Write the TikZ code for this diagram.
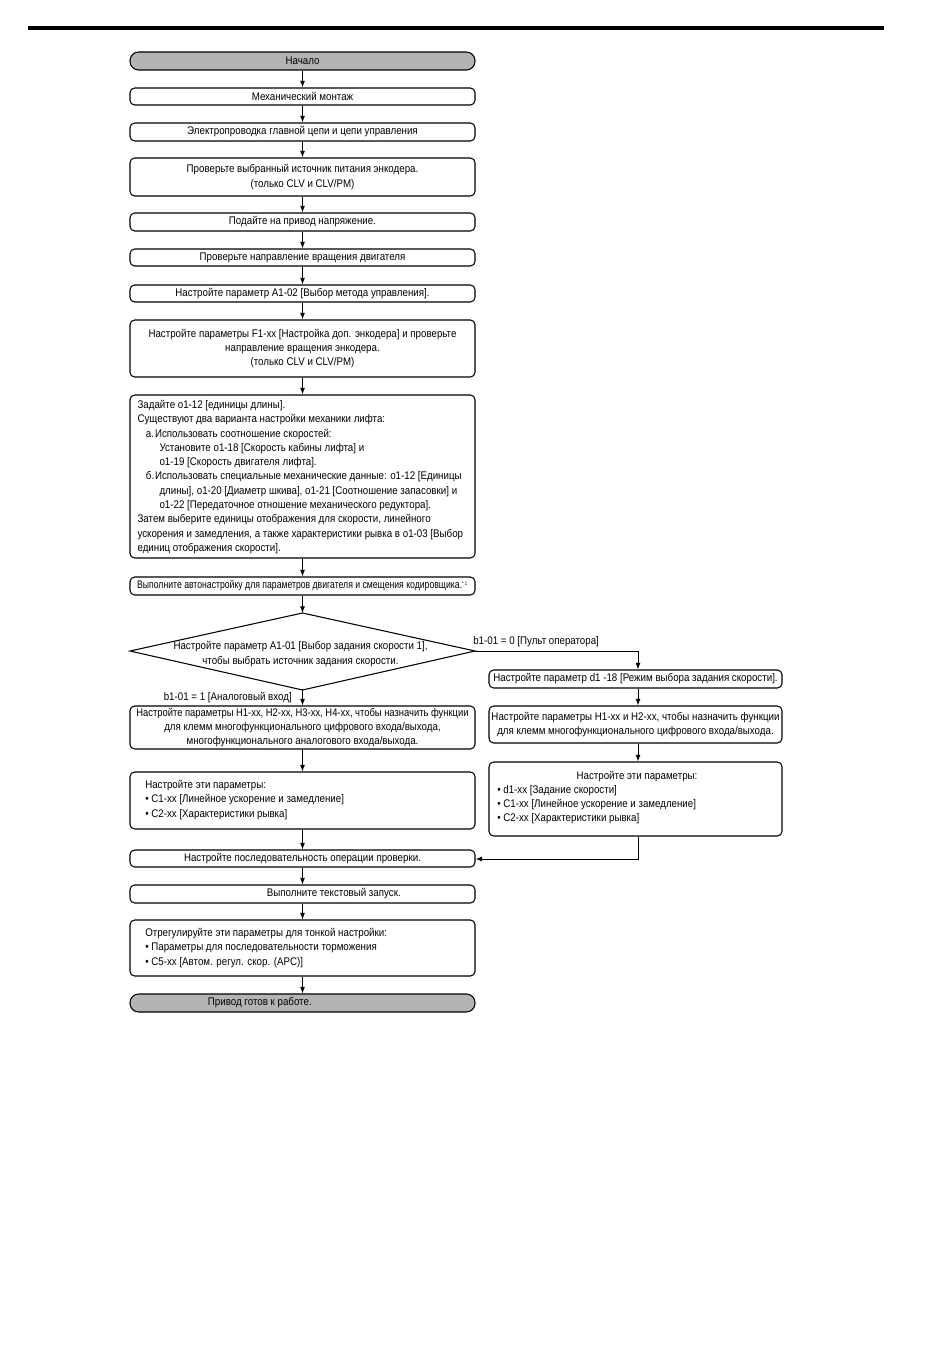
\documentclass[tikz,border=0pt]{standalone}
\usepackage{fontspec}
\setmainfont{Liberation Sans}[FakeStretch=0.88]
\usetikzlibrary{arrows.meta}
\newcommand\ftxt{\fontsize{8.3}{10.7}\selectfont}
\begin{document}
\begin{tikzpicture}[x=0.75pt,y=-0.75pt,
  >={Latex[length=5pt,width=3.8pt]},
  box/.style={draw, line width=0.8pt, rounded corners=3.5pt, minimum width=258.75pt,
    inner sep=0pt, font=\ftxt, align=center},
  rbox/.style={box, minimum width=219.75pt},
  term/.style={box, fill=termgray, rounded corners=6.5pt, minimum height=13.5pt},
  conn/.style={->, line width=0.75pt},
  lbl/.style={font=\ftxt, inner sep=0pt},
  ltext/.style={font=\ftxt, inner sep=0pt, align=left, anchor=west}]
\definecolor{termgray}{RGB}{180,180,180}
\useasboundingbox (0,0) rectangle (950,1369);
\draw[line width=2.4pt] (28,28) -- (884,28);

% main column
\node[term] (n1) at (302.5,61) {Начало};
\node[box, minimum height=12.75pt] (n2) at (302.5,96.5) {Механический монтаж};
\node[box, minimum height=13.5pt] (n3) at (302.5,132) {Электропроводка главной цепи и цепи управления};
\node[box, minimum height=28.5pt] (n4) at (302.5,177) {Проверьте выбранный источник питания энкодера.\\(только CLV и CLV/PM)};
\node[box, minimum height=13.5pt] (n5) at (302.5,222) {Подайте на привод напряжение.};
\node[box, minimum height=12.75pt] (n6) at (302.5,257.5) {Проверьте направление вращения двигателя};
\node[box, minimum height=12.75pt] (n7) at (302.5,293.5) {Настройте параметр A1-02 [Выбор метода управления].};
\node[box, minimum height=42.75pt] (n8) at (302.5,348.5) {Настройте параметры F1-xx [Настройка доп. энкодера] и проверьте\\направление вращения энкодера.\\(только CLV и CLV/PM)};
\node[box, minimum height=122.25pt] (n9) at (302.5,476.5) {};
\node[ltext] (t9) at (137.3,477) {%
Задайте o1-12 [единицы длины].\\
Существуют два варианта настройки механики лифта:\\
\hspace*{6.3pt}\makebox[6.8pt][l]{а.}Использовать соотношение скоростей:\\
\hspace*{16.5pt}Установите o1-18 [Скорость кабины лифта] и\\
\hspace*{16.5pt}o1-19 [Скорость двигателя лифта].\\
\hspace*{6.3pt}\makebox[6.8pt][l]{б.}Использовать специальные механические данные: o1-12 [Единицы\\
\hspace*{16.5pt}длины], o1-20 [Диаметр шкива], o1-21 [Соотношение запасовки] и\\
\hspace*{16.5pt}o1-22 [Передаточное отношение механического редуктора].\\
Затем выберите единицы отображения для скорости, линейного\\
ускорения и замедления, а также характеристики рывка в o1-03 [Выбор\\
единиц отображения скорости].};
\node[box, minimum height=13.5pt] (n10) at (302.5,586) {\scalebox{0.89}[1]{Выполните автонастройку для параметров двигателя и смещения кодировщика.\textsuperscript{\fontsize{4}{4}\selectfont* 1}}};

% decision
\coordinate (dT) at (302.5,613);
\coordinate (dR) at (475,651);
\coordinate (dB) at (302.5,690);
\coordinate (dL) at (130,651);
\draw[line width=0.8pt] (dT) -- (dR) -- (dB) -- (dL) -- cycle;
\node[lbl, align=center] (dtext) at (300.5,654) {Настройте параметр A1-01 [Выбор задания скорости 1],\\чтобы выбрать источник задания скорости.};

\node[box, minimum height=32.25pt] (n12) at (302.5,727.5) {\scalebox{0.965}[1]{Настройте параметры H1-xx, H2-xx, H3-xx, H4-xx, чтобы назначить функции}\\для клемм многофункционального цифрового входа/выхода,\\многофункционального аналогового входа/выхода.};
\node[box, minimum height=42.75pt] (n13) at (302.5,800.5) {};
\node[ltext] (t13) at (145,800) {%
Настройте эти параметры:\\
• C1-xx [Линейное ускорение и замедление]\\
• C2-xx [Характеристики рывка]};
\node[box, minimum height=12.75pt] (n14) at (302.5,858.5) {Настройте последовательность операции проверки.};
\node[box, minimum height=13.5pt] (n15) at (302.5,894) {\hspace*{47pt}Выполните текстовый запуск.};
\node[box, minimum height=42pt] (n16) at (302.5,948) {};
\node[ltext] (t16) at (145,948) {%
Отрегулируйте эти параметры для тонкой настройки:\\
• Параметры для последовательности торможения\\
• C5-xx [Автом. регул. скор. (APC)]};
\node[term] (n17) at (302.5,1003) {Привод готов к работе.\hspace*{64pt}};

% right branch
\node[rbox, minimum height=13.5pt] (r1) at (635.5,679) {Настройте параметр d1 -18 [Режим выбора задания скорости].};
\node[rbox, minimum height=27.75pt] (r2) at (635.5,724.5) {Настройте параметры H1-xx и H2-xx, чтобы назначить функции\\для клемм многофункционального цифрового входа/выхода.};
\node[rbox, minimum height=55.5pt] (r3) at (635.5,799) {};
\node[ltext] (t3) at (497,797.5) {%
\hspace*{59.5pt}Настройте эти параметры:\\
• d1-xx [Задание скорости]\\
• C1-xx [Линейное ускорение и замедление]\\
• C2-xx [Характеристики рывка]};

\coordinate (rx) at (638,651);
\coordinate (ry) at (638,859);

% labels
\node[lbl, anchor=base west] (l0) at (473,644) {b1-01 = 0 [Пульт оператора]};
\node[lbl, anchor=base east] (l1) at (292,700) {b1-01 = 1 [Аналоговый вход]};

% connectors
\draw[conn] (n1) -- (n2);
\draw[conn] (n2) -- (n3);
\draw[conn] (n3) -- (n4);
\draw[conn] (n4) -- (n5);
\draw[conn] (n5) -- (n6);
\draw[conn] (n6) -- (n7);
\draw[conn] (n7) -- (n8);
\draw[conn] (n8) -- (n9);
\draw[conn] (n9) -- (n10);
\draw[conn] (n10) -- (dT);
\draw[conn] (dB) -- (n12);
\draw[conn] (n12) -- (n13);
\draw[conn] (n13) -- (n14);
\draw[conn] (n14) -- (n15);
\draw[conn] (n15) -- (n16);
\draw[conn] (n16) -- (n17);
\draw[conn] (dR) -- (rx) -- (rx |- r1.north);
\draw[conn] (r1.south -| rx) -- (r2.north -| rx);
\draw[conn] (r2.south -| rx) -- (r3.north -| rx);
\draw[conn] (r3.south -| rx) -- (ry) -- (n14.east |- ry);
\end{tikzpicture}
\end{document}
